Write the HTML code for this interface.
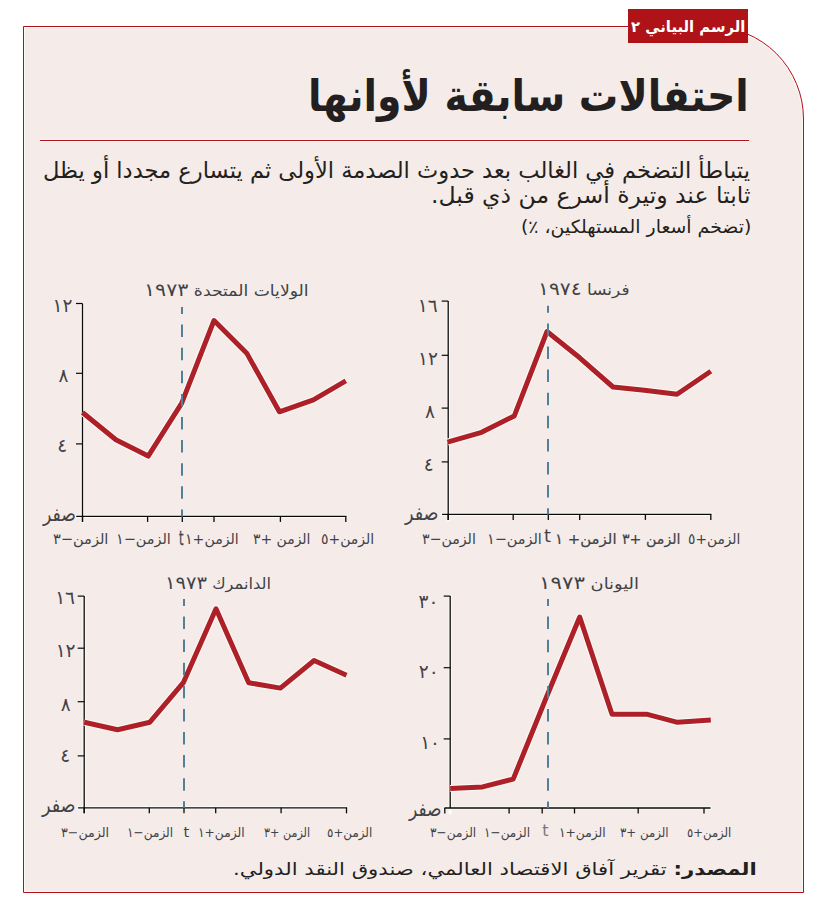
<!DOCTYPE html>
<html lang="ar">
<head>
<meta charset="utf-8">
<style>
html,body{margin:0;padding:0;background:#fff;}
body{width:822px;height:913px;position:relative;overflow:hidden;font-family:"DejaVu Sans",sans-serif;}
.box{position:absolute;left:23px;top:26px;width:779px;height:865px;background:#f5ece9;border:1px solid #b0111a;border-top-right-radius:93px;box-shadow:inset 0 0 0 1px #fafaf7;}
.badge{position:absolute;left:628px;top:9px;width:120px;height:34px;background:#af1217;}
.rule{position:absolute;left:40px;top:140px;width:709px;height:1px;background:#b0111a;box-shadow:0 -1px 0 #fafaf7,0 1px 0 #fafaf7;}
.t{position:absolute;white-space:nowrap;direction:rtl;line-height:normal;transform-origin:0 0;color:#231f20;}
svg{position:absolute;left:0;top:0;}
</style>
</head>
<body>
<div class="box"></div>
<div class="badge"></div>
<div class="rule"></div>
<svg width="822" height="913" viewBox="0 0 822 913">
<g stroke="#fbfbf8" stroke-width="3.2">
<line x1="82.5" y1="302.5" x2="82.5" y2="522.9"/>
<line x1="75.2" y1="516.4" x2="347.5" y2="516.4"/>
</g>
<line x1="82.5" y1="303.5" x2="82.5" y2="521.9" stroke="#080a0a" stroke-width="1.3"/>
<line x1="76.2" y1="516.4" x2="346.5" y2="516.4" stroke="#080a0a" stroke-width="1.3"/>
<line x1="76" y1="303.5" x2="82.5" y2="303.5" stroke="#080a0a" stroke-width="1.2"/>
<line x1="76" y1="373.3" x2="82.5" y2="373.3" stroke="#080a0a" stroke-width="1.2"/>
<line x1="76" y1="443.9" x2="82.5" y2="443.9" stroke="#080a0a" stroke-width="1.2"/>
<line x1="82.5" y1="516.4" x2="82.5" y2="521.9" stroke="#080a0a" stroke-width="1.3"/>
<line x1="147.6" y1="516.4" x2="147.6" y2="521.9" stroke="#080a0a" stroke-width="1.3"/>
<line x1="182.3" y1="516.4" x2="182.3" y2="521.9" stroke="#080a0a" stroke-width="1.3"/>
<line x1="214" y1="516.4" x2="214" y2="521.9" stroke="#080a0a" stroke-width="1.3"/>
<line x1="280.4" y1="516.4" x2="280.4" y2="521.9" stroke="#080a0a" stroke-width="1.3"/>
<line x1="345.8" y1="516.4" x2="345.8" y2="521.9" stroke="#080a0a" stroke-width="1.3"/>
<polyline points="82.5,412.5 115.9,439.8 148.2,456.1 181.6,403.3 214,320.5 247,353.6 279.4,411.8 313.4,399.9 345.8,380.8" fill="none" stroke="#fbfbf8" stroke-width="7" stroke-linejoin="round"/>
<polyline points="82.5,412.5 115.9,439.8 148.2,456.1 181.6,403.3 214,320.5 247,353.6 279.4,411.8 313.4,399.9 345.8,380.8" fill="none" stroke="#ae2027" stroke-width="5" stroke-linejoin="round"/>
<line x1="182" y1="307" x2="182" y2="516.4" stroke="#528099" stroke-width="2" stroke-dasharray="12.5 10.6" stroke-dashoffset="5.5"/>
<g stroke="#fbfbf8" stroke-width="3.2">
<line x1="448.2" y1="300.1" x2="448.2" y2="520.9"/>
<line x1="441" y1="514.4" x2="712.5" y2="514.4"/>
</g>
<line x1="448.2" y1="301.1" x2="448.2" y2="519.9" stroke="#080a0a" stroke-width="1.3"/>
<line x1="442" y1="514.4" x2="711.5" y2="514.4" stroke="#080a0a" stroke-width="1.3"/>
<line x1="441.7" y1="301.1" x2="448.2" y2="301.1" stroke="#080a0a" stroke-width="1.2"/>
<line x1="441.7" y1="355.3" x2="448.2" y2="355.3" stroke="#080a0a" stroke-width="1.2"/>
<line x1="441.7" y1="408.1" x2="448.2" y2="408.1" stroke="#080a0a" stroke-width="1.2"/>
<line x1="441.7" y1="461.9" x2="448.2" y2="461.9" stroke="#080a0a" stroke-width="1.2"/>
<line x1="448.2" y1="514.4" x2="448.2" y2="519.9" stroke="#080a0a" stroke-width="1.3"/>
<line x1="513.2" y1="514.4" x2="513.2" y2="519.9" stroke="#080a0a" stroke-width="1.3"/>
<line x1="548.3" y1="514.4" x2="548.3" y2="519.9" stroke="#080a0a" stroke-width="1.3"/>
<line x1="579.7" y1="514.4" x2="579.7" y2="519.9" stroke="#080a0a" stroke-width="1.3"/>
<line x1="645.4" y1="514.4" x2="645.4" y2="519.9" stroke="#080a0a" stroke-width="1.3"/>
<line x1="710.8" y1="514.4" x2="710.8" y2="519.9" stroke="#080a0a" stroke-width="1.3"/>
<polyline points="447.5,442.2 481.6,432.3 514.3,415.9 547,331.5 579.7,357.8 613,387 644.4,390.2 677,394.3 710.8,371.3" fill="none" stroke="#fbfbf8" stroke-width="7" stroke-linejoin="round"/>
<polyline points="447.5,442.2 481.6,432.3 514.3,415.9 547,331.5 579.7,357.8 613,387 644.4,390.2 677,394.3 710.8,371.3" fill="none" stroke="#ae2027" stroke-width="5" stroke-linejoin="round"/>
<line x1="548" y1="305.8" x2="548" y2="514.4" stroke="#528099" stroke-width="2" stroke-dasharray="12.5 10.6" stroke-dashoffset="5.5"/>
<g stroke="#fbfbf8" stroke-width="3.2">
<line x1="84.2" y1="595.1" x2="84.2" y2="814.3"/>
<line x1="77" y1="807.8" x2="348.2" y2="807.8"/>
</g>
<line x1="84.2" y1="596.1" x2="84.2" y2="813.3" stroke="#080a0a" stroke-width="1.3"/>
<line x1="78" y1="807.8" x2="347.2" y2="807.8" stroke="#080a0a" stroke-width="1.3"/>
<line x1="77.7" y1="596.1" x2="84.2" y2="596.1" stroke="#080a0a" stroke-width="1.2"/>
<line x1="77.7" y1="648.2" x2="84.2" y2="648.2" stroke="#080a0a" stroke-width="1.2"/>
<line x1="77.7" y1="701.7" x2="84.2" y2="701.7" stroke="#080a0a" stroke-width="1.2"/>
<line x1="77.7" y1="755.9" x2="84.2" y2="755.9" stroke="#080a0a" stroke-width="1.2"/>
<line x1="84.2" y1="807.8" x2="84.2" y2="813.3" stroke="#080a0a" stroke-width="1.3"/>
<line x1="149.3" y1="807.8" x2="149.3" y2="813.3" stroke="#080a0a" stroke-width="1.3"/>
<line x1="184" y1="807.8" x2="184" y2="813.3" stroke="#080a0a" stroke-width="1.3"/>
<line x1="215.7" y1="807.8" x2="215.7" y2="813.3" stroke="#080a0a" stroke-width="1.3"/>
<line x1="281.1" y1="807.8" x2="281.1" y2="813.3" stroke="#080a0a" stroke-width="1.3"/>
<line x1="346.5" y1="807.8" x2="346.5" y2="813.3" stroke="#080a0a" stroke-width="1.3"/>
<polyline points="84.2,722.2 117.6,729.7 149.9,722.2 183.3,682.7 216,608.8 248.7,682.7 280.4,688.1 314.1,660.5 346.5,675.2" fill="none" stroke="#fbfbf8" stroke-width="7" stroke-linejoin="round"/>
<polyline points="84.2,722.2 117.6,729.7 149.9,722.2 183.3,682.7 216,608.8 248.7,682.7 280.4,688.1 314.1,660.5 346.5,675.2" fill="none" stroke="#ae2027" stroke-width="5" stroke-linejoin="round"/>
<line x1="184" y1="598.9" x2="184" y2="807.8" stroke="#528099" stroke-width="2" stroke-dasharray="12.5 10.6" stroke-dashoffset="5.5"/>
<g stroke="#fbfbf8" stroke-width="3.2">
<line x1="450.2" y1="595.1" x2="450.2" y2="814.5"/>
<line x1="443.4" y1="808" x2="711.5" y2="808"/>
</g>
<line x1="450.2" y1="596.1" x2="450.2" y2="808" stroke="#080a0a" stroke-width="1.3"/>
<line x1="444.4" y1="808" x2="710.5" y2="808" stroke="#080a0a" stroke-width="1.3"/>
<line x1="443.7" y1="596.1" x2="450.2" y2="596.1" stroke="#080a0a" stroke-width="1.2"/>
<line x1="443.7" y1="667.7" x2="450.2" y2="667.7" stroke="#080a0a" stroke-width="1.2"/>
<line x1="443.7" y1="738.9" x2="450.2" y2="738.9" stroke="#080a0a" stroke-width="1.2"/>
<line x1="444.8" y1="808" x2="444.8" y2="813.5" stroke="#080a0a" stroke-width="1.3"/>
<line x1="509.1" y1="808" x2="509.1" y2="813.5" stroke="#080a0a" stroke-width="1.3"/>
<line x1="542.2" y1="808" x2="542.2" y2="813.5" stroke="#080a0a" stroke-width="1.3"/>
<line x1="574.5" y1="808" x2="574.5" y2="813.5" stroke="#080a0a" stroke-width="1.3"/>
<line x1="638.2" y1="808" x2="638.2" y2="813.5" stroke="#080a0a" stroke-width="1.3"/>
<line x1="704" y1="808" x2="704" y2="813.5" stroke="#080a0a" stroke-width="1.3"/>
<polyline points="450.2,788.6 482.6,786.9 513.2,779.1 546.5,697 579.7,617 612,714.3 646.5,714.2 677.5,722.3 710.8,720.1" fill="none" stroke="#fbfbf8" stroke-width="7" stroke-linejoin="round"/>
<polyline points="450.2,788.6 482.6,786.9 513.2,779.1 546.5,697 579.7,617 612,714.3 646.5,714.2 677.5,722.3 710.8,720.1" fill="none" stroke="#ae2027" stroke-width="5" stroke-linejoin="round"/>
<line x1="548" y1="599" x2="548" y2="808" stroke="#528099" stroke-width="2" stroke-dasharray="12.5 10.6" stroke-dashoffset="5.5"/>
</svg>
<div class="t" style="left:630.53px;top:18.1px;font-size:15.3px;font-weight:bold;color:#ffffff;transform:scaleX(0.970);">الرسم البياني ٢</div>
<div class="t" style="left:308.22px;top:70px;font-size:44px;font-weight:bold;transform:scaleX(0.895);">احتفالات سابقة لأوانها</div>
<div class="t" style="left:43.01px;top:156.9px;font-size:22.7px;transform:scaleX(0.994);">يتباطأ التضخم في الغالب بعد حدوث الصدمة الأولى ثم يتسارع مجددا أو يظل</div>
<div class="t" style="left:430.73px;top:182px;font-size:22.7px;transform:scaleX(1.037);">ثابتا عند وتيرة أسرع من ذي قبل.</div>
<div class="t" style="left:520.9px;top:216.3px;font-size:18px;transform:scaleX(1.049);">(تضخم أسعار المستهلكين، ٪)</div>
<div class="t" style="left:232.51px;top:858.6px;font-size:17px;transform:scaleX(1.247);"><b>المصدر:</b> تقرير آفاق الاقتصاد العالمي، صندوق النقد الدولي.</div>
<div class="t" style="left:144.3px;top:279px;font-size:15.2px;color:#414247;transform:scaleX(1.133);">الولايات المتحدة <span style="font-size:1.2em;letter-spacing:0.1em">١٩٧٣</span></div>
<div class="t" style="left:538.05px;top:278.4px;font-size:15.2px;color:#414247;transform:scaleX(1.115);">فرنسا <span style="font-size:1.2em;letter-spacing:0.1em">١٩٧٤</span></div>
<div class="t" style="left:164.79px;top:571.5px;font-size:15.2px;color:#414247;transform:scaleX(1.072);">الدانمرك <span style="font-size:1.2em;letter-spacing:0.1em">١٩٧٣</span></div>
<div class="t" style="left:538.89px;top:571.5px;font-size:15.2px;color:#414247;transform:scaleX(1.172);">اليونان <span style="font-size:1.2em;letter-spacing:0.1em">١٩٧٣</span></div>
<div class="t" style="left:53.01px;top:530.2px;font-size:14.7px;color:#414247;transform:scaleX(0.991);">الزمن−٣</div>
<div class="t" style="left:116.44px;top:530.2px;font-size:14.7px;color:#414247;transform:scaleX(0.981);">الزمن−١</div>
<div class="t" style="left:178.6px;top:525.85px;font-size:20px;color:#414247;transform:scaleX(0.575);"><span style="-webkit-text-stroke:0.3px">t</span></div>
<div class="t" style="left:185.18px;top:530.2px;font-size:14.7px;color:#414247;transform:scaleX(0.962);">الزمن+١</div>
<div class="t" style="left:253.05px;top:530.2px;font-size:14.7px;color:#414247;transform:scaleX(0.948);">الزمن +٣</div>
<div class="t" style="left:320.75px;top:530.2px;font-size:14.7px;color:#414247;transform:scaleX(0.952);">الزمن+٥</div>
<div class="t" style="left:422.24px;top:530.2px;font-size:14.7px;color:#414247;transform:scaleX(0.963);">الزمن−٣</div>
<div class="t" style="left:486.94px;top:530.2px;font-size:14.7px;color:#414247;transform:scaleX(0.981);">الزمن−١</div>
<div class="t" style="left:544.05px;top:525.45px;font-size:17.8px;color:#414247;">t</div>
<div class="t" style="left:555.27px;top:530.2px;font-size:14.7px;color:#414247;transform:scaleX(1.016);"><span style="-webkit-text-stroke:0.2px">الزمن+ ١</span></div>
<div class="t" style="left:621.53px;top:530.2px;font-size:14.7px;color:#414247;transform:scaleX(0.966);"><span style="-webkit-text-stroke:0.2px">الزمن +٣</span></div>
<div class="t" style="left:687.76px;top:530.2px;font-size:14.7px;color:#414247;transform:scaleX(0.937);">الزمن+٥</div>
<div class="t" style="left:60.93px;top:825.3px;font-size:13px;color:#414247;transform:scaleX(0.972);">الزمن−٣</div>
<div class="t" style="left:127.03px;top:825.3px;font-size:13px;color:#414247;transform:scaleX(0.933);">الزمن−١</div>
<div class="t" style="left:183.5px;top:823.3px;font-size:14.7px;color:#414247;">t</div>
<div class="t" style="left:198.22px;top:825.3px;font-size:13px;color:#414247;transform:scaleX(0.941);">الزمن+١</div>
<div class="t" style="left:263.94px;top:825.3px;font-size:13px;color:#414247;transform:scaleX(0.859);">الزمن +٣</div>
<div class="t" style="left:327.19px;top:825.3px;font-size:13px;color:#414247;transform:scaleX(0.915);">الزمن+٥</div>
<div class="t" style="left:430.27px;top:825.4px;font-size:13px;color:#414247;transform:scaleX(0.934);">الزمن−٣</div>
<div class="t" style="left:483.64px;top:825.4px;font-size:13px;color:#414247;transform:scaleX(0.930);">الزمن−١</div>
<div class="t" style="left:542.3px;top:820.95px;font-size:16px;color:#77777c;">t</div>
<div class="t" style="left:558.82px;top:825.4px;font-size:13px;color:#414247;transform:scaleX(0.941);">الزمن+١</div>
<div class="t" style="left:620.19px;top:825.4px;font-size:13px;color:#414247;transform:scaleX(0.906);">الزمن +٣</div>
<div class="t" style="left:687.1px;top:825.4px;font-size:13px;color:#414247;transform:scaleX(0.896);">الزمن+٥</div>
<div class="t" style="left:52.5px;top:294.95px;font-size:18.5px;color:#414247;">١٢</div>
<div class="t" style="left:58.5px;top:364.95px;font-size:18.5px;color:#414247;">٨</div>
<div class="t" style="left:57.35px;top:435px;font-size:18.5px;color:#414247;">٤</div>
<div class="t" style="left:42.84px;top:502.3px;font-size:20.5px;color:#414247;transform:scaleX(0.844);">صفر</div>
<div class="t" style="left:417.8px;top:295px;font-size:18.5px;color:#414247;">١٦</div>
<div class="t" style="left:418.1px;top:348.25px;font-size:18.5px;color:#414247;">١٢</div>
<div class="t" style="left:424.9px;top:401.35px;font-size:18.5px;color:#414247;">٨</div>
<div class="t" style="left:423.65px;top:453.6px;font-size:18.5px;color:#414247;">٤</div>
<div class="t" style="left:405.46px;top:500.7px;font-size:20.5px;color:#414247;transform:scaleX(0.859);">صفر</div>
<div class="t" style="left:55.15px;top:587px;font-size:18.5px;color:#414247;">١٦</div>
<div class="t" style="left:55.65px;top:640.1px;font-size:18.5px;color:#414247;">١٢</div>
<div class="t" style="left:60.65px;top:694.4px;font-size:18.5px;color:#414247;">٨</div>
<div class="t" style="left:60.15px;top:744.65px;font-size:18.5px;color:#414247;">٤</div>
<div class="t" style="left:42.46px;top:793.05px;font-size:20.5px;color:#414247;transform:scaleX(0.859);">صفر</div>
<div class="t" style="left:418.5px;top:590.8px;font-size:18.5px;color:#414247;">٣٠</div>
<div class="t" style="left:418.8px;top:660.85px;font-size:18.5px;color:#414247;">٢٠</div>
<div class="t" style="left:420.2px;top:731.9px;font-size:18.5px;color:#414247;">١٠</div>
<div class="t" style="left:408.93px;top:796.55px;font-size:20.5px;color:#414247;transform:scaleX(0.831);">صفر</div>
</body>
</html>
